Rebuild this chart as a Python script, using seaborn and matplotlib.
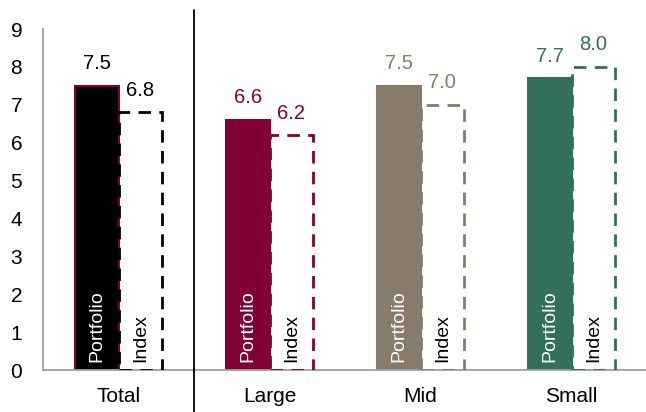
import matplotlib.pyplot as plt
import pandas as pd
import seaborn as sns

# Data
categories = ["Total", "Large", "Mid", "Small"]
portfolio = [7.5, 6.6, 7.5, 7.7]
index_vals = [6.8, 6.2, 7.0, 8.0]
series = ["Portfolio", "Index"]
colors = ["#000000", "#800035", "#877c6c", "#33705a"]
label_colors = ["#000000", "#800035", "#877c6c", "#33705a"]

df = pd.DataFrame(
    {
        "Category": categories * 2,
        "Value": portfolio + index_vals,
        "Series": ["Portfolio"] * 4 + ["Index"] * 4,
    }
)

sns.set_style("white")
plt.rcParams["font.family"] = ["Liberation Sans", "DejaVu Sans"]
plt.rcParams["text.color"] = "black"
plt.rcParams["xtick.color"] = "black"
plt.rcParams["ytick.color"] = "black"

fig = plt.figure(figsize=(6.46, 4.12), dpi=100)
ax = fig.add_axes([43 / 646, 1 - 370 / 412, 604 / 646, 341 / 412])

sns.barplot(
    data=df,
    x="Category",
    y="Value",
    hue="Series",
    hue_order=series,
    order=categories,
    width=0.58,
    dodge=True,
    legend=False,
    ax=ax,
)

port_bars = ax.containers[0]
idx_bars = ax.containers[1]

for i, bar in enumerate(port_bars):
    bar.set_facecolor(colors[i])
    bar.set_edgecolor("#800035" if i == 0 else colors[i])
    bar.set_linewidth(1.5)
    bar.set_zorder(2)

for i, bar in enumerate(idx_bars):
    bar.set_facecolor("none")
    bar.set_edgecolor(colors[i])
    bar.set_linewidth(2.0)
    bar.set_linestyle((0, (4.5, 3)))
    bar.set_zorder(3)

# value labels
for i in range(len(categories)):
    for bar, val in [(port_bars[i], portfolio[i]), (idx_bars[i], index_vals[i])]:
        cx = bar.get_x() + bar.get_width() / 2
        ax.annotate(
            f"{val:.1f}",
            (cx, val),
            xytext=(0, 9),
            textcoords="offset points",
            ha="center",
            va="bottom",
            fontsize=14.5,
            color=label_colors[i],
        )
    # series names inside bars
    pb = port_bars[i]
    ax.text(
        pb.get_x() + pb.get_width() / 2,
        0.22,
        "Portfolio",
        rotation=90,
        ha="center",
        va="bottom",
        color="white",
        fontsize=14,
        zorder=5,
    )
    ib = idx_bars[i]
    ax.text(
        ib.get_x() + ib.get_width() / 2,
        0.22,
        "Index",
        rotation=90,
        ha="center",
        va="bottom",
        color="black",
        fontsize=14,
        zorder=5,
    )

# separator between Total and the size buckets
ax.plot([0.5, 0.5], [9.5, -1.2], color="black", lw=1.3, clip_on=False, zorder=6)

ax.set_xlim(-0.5, 3.5)
ax.set_ylim(0, 9)
ax.set_yticks(range(0, 10))
ax.set_xlabel("")
ax.set_ylabel("")
ax.tick_params(axis="y", length=0, pad=15, labelsize=15)
ax.tick_params(axis="x", length=0, pad=12, labelsize=15)

for side in ["top", "right"]:
    ax.spines[side].set_visible(False)
for side in ["left", "bottom"]:
    ax.spines[side].set_color("#a0a0a0")
    ax.spines[side].set_linewidth(1.3)

fig.savefig("out.png", dpi=100)
